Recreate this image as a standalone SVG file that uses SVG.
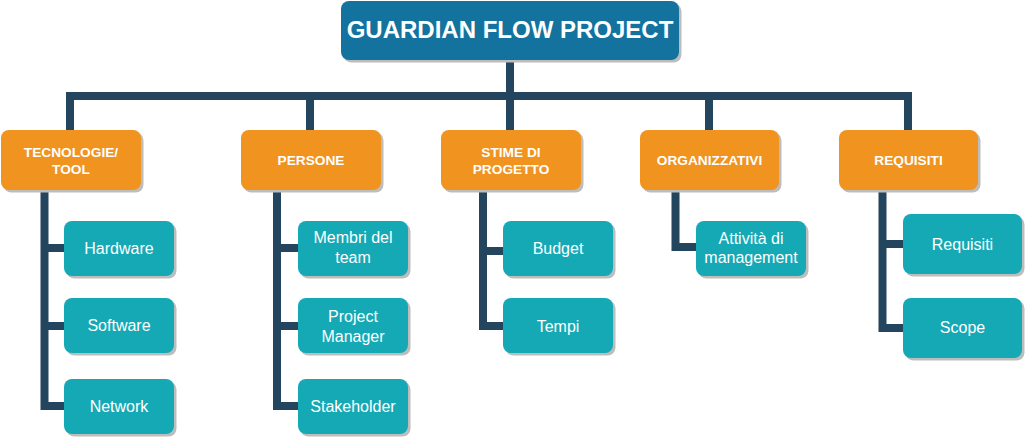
<svg xmlns="http://www.w3.org/2000/svg" width="1026" height="437" viewBox="0 0 1026 437">
<style>
.root{fill:#13739E}
.cat{fill:#F0931F}
.leaf{fill:#14A9B5}
.shadow{fill:#BDBDBD}
.conn{fill:none;stroke:#23455D;stroke-width:8;stroke-linejoin:miter;stroke-linecap:butt}
.t1{font-family:"Liberation Sans",Arial,sans-serif;font-weight:bold;font-size:24px;fill:#fff;text-anchor:middle}
.t2{font-family:"Liberation Sans",Arial,sans-serif;font-weight:bold;font-size:13.7px;fill:#fff;text-anchor:middle}
.t3{font-family:"Liberation Sans",Arial,sans-serif;font-size:16px;fill:#fff;text-anchor:middle}
</style>
<rect width="1026" height="437" fill="#fff"/>
<g id="connectors">
<path class="conn" d="M510,60 V96"/>
<path class="conn" d="M70,130 V96 H908 V130"/>
<path class="conn" d="M310,96 V130"/>
<path class="conn" d="M510,96 V130"/>
<path class="conn" d="M709,96 V130"/>
<path class="conn" d="M44.5,190 V406 H64"/>
<path class="conn" d="M44.5,248 H64"/>
<path class="conn" d="M44.5,326 H64"/>
<path class="conn" d="M277,190 V406 H298"/>
<path class="conn" d="M277,248 H298"/>
<path class="conn" d="M277,326 H298"/>
<path class="conn" d="M483,190 V326 H503"/>
<path class="conn" d="M483,251 H503"/>
<path class="conn" d="M675.5,190 V247 H696"/>
<path class="conn" d="M882.5,190 V328 H903"/>
<path class="conn" d="M882.5,244 H903"/>
</g>
<g id="root">
<rect class="shadow" x="343.5" y="3.5" width="338" height="59" rx="8"/>
<rect class="root" x="341" y="1" width="338" height="59" rx="8"/>
<text class="t1" x="510" y="37.5">GUARDIAN FLOW PROJECT</text>
</g>
<g id="tecnologie">
<rect class="shadow" x="3.5" y="132.5" width="140" height="60" rx="8"/>
<rect class="cat" x="1" y="130" width="140" height="60" rx="8"/>
<text class="t2" x="71" y="157">TECNOLOGIE/</text>
<text class="t2" x="71" y="174">TOOL</text>
</g>
<g id="persone">
<rect class="shadow" x="243.5" y="132.5" width="140" height="60" rx="8"/>
<rect class="cat" x="241" y="130" width="140" height="60" rx="8"/>
<text class="t2" x="311" y="165">PERSONE</text>
</g>
<g id="stime">
<rect class="shadow" x="443.5" y="132.5" width="140" height="60" rx="8"/>
<rect class="cat" x="441" y="130" width="140" height="60" rx="8"/>
<text class="t2" x="511" y="157">STIME DI</text>
<text class="t2" x="511" y="174">PROGETTO</text>
</g>
<g id="organizzativi">
<rect class="shadow" x="642.5" y="132.5" width="139" height="60" rx="8"/>
<rect class="cat" x="640" y="130" width="139" height="60" rx="8"/>
<text class="t2" x="709.5" y="165">ORGANIZZATIVI</text>
</g>
<g id="requisiti-cat">
<rect class="shadow" x="841.5" y="132.5" width="139" height="60" rx="8"/>
<rect class="cat" x="839" y="130" width="139" height="60" rx="8"/>
<text class="t2" x="908.5" y="165">REQUISITI</text>
</g>
<g id="hardware">
<rect class="shadow" x="66.5" y="223.5" width="110" height="55" rx="8"/>
<rect class="leaf" x="64" y="221" width="110" height="55" rx="8"/>
<text class="t3" x="119" y="254">Hardware</text>
</g>
<g id="software">
<rect class="shadow" x="66.5" y="300.5" width="110" height="55" rx="8"/>
<rect class="leaf" x="64" y="298" width="110" height="55" rx="8"/>
<text class="t3" x="119" y="331">Software</text>
</g>
<g id="network">
<rect class="shadow" x="66.5" y="381.5" width="110" height="55" rx="8"/>
<rect class="leaf" x="64" y="379" width="110" height="55" rx="8"/>
<text class="t3" x="119" y="412">Network</text>
</g>
<g id="membri">
<rect class="shadow" x="300.5" y="223.5" width="110" height="55" rx="8"/>
<rect class="leaf" x="298" y="221" width="110" height="55" rx="8"/>
<text class="t3" x="353" y="243.3">Membri del</text>
<text class="t3" x="353" y="262.7">team</text>
</g>
<g id="pm">
<rect class="shadow" x="300.5" y="300.5" width="110" height="55" rx="8"/>
<rect class="leaf" x="298" y="298" width="110" height="55" rx="8"/>
<text class="t3" x="353" y="322">Project</text>
<text class="t3" x="353" y="341.5">Manager</text>
</g>
<g id="stakeholder">
<rect class="shadow" x="300.5" y="381.5" width="110" height="55" rx="8"/>
<rect class="leaf" x="298" y="379" width="110" height="55" rx="8"/>
<text class="t3" x="353" y="412">Stakeholder</text>
</g>
<g id="budget">
<rect class="shadow" x="505.5" y="223.5" width="110" height="55" rx="8"/>
<rect class="leaf" x="503" y="221" width="110" height="55" rx="8"/>
<text class="t3" x="558" y="254">Budget</text>
</g>
<g id="tempi">
<rect class="shadow" x="505.5" y="300.5" width="110" height="55" rx="8"/>
<rect class="leaf" x="503" y="298" width="110" height="55" rx="8"/>
<text class="t3" x="558" y="331.5">Tempi</text>
</g>
<g id="attivita">
<rect class="shadow" x="698.5" y="223.5" width="110" height="55" rx="8"/>
<rect class="leaf" x="696" y="221" width="110" height="55" rx="8"/>
<text class="t3" x="751" y="244">Attività di</text>
<text class="t3" x="751" y="263.3">management</text>
</g>
<g id="requisiti">
<rect class="shadow" x="905.5" y="216.5" width="119" height="60" rx="8"/>
<rect class="leaf" x="903" y="214" width="119" height="60" rx="8"/>
<text class="t3" x="962.5" y="250">Requisiti</text>
</g>
<g id="scope">
<rect class="shadow" x="905.5" y="300.5" width="119" height="60" rx="8"/>
<rect class="leaf" x="903" y="298" width="119" height="60" rx="8"/>
<text class="t3" x="962.5" y="333">Scope</text>
</g>
</svg>
